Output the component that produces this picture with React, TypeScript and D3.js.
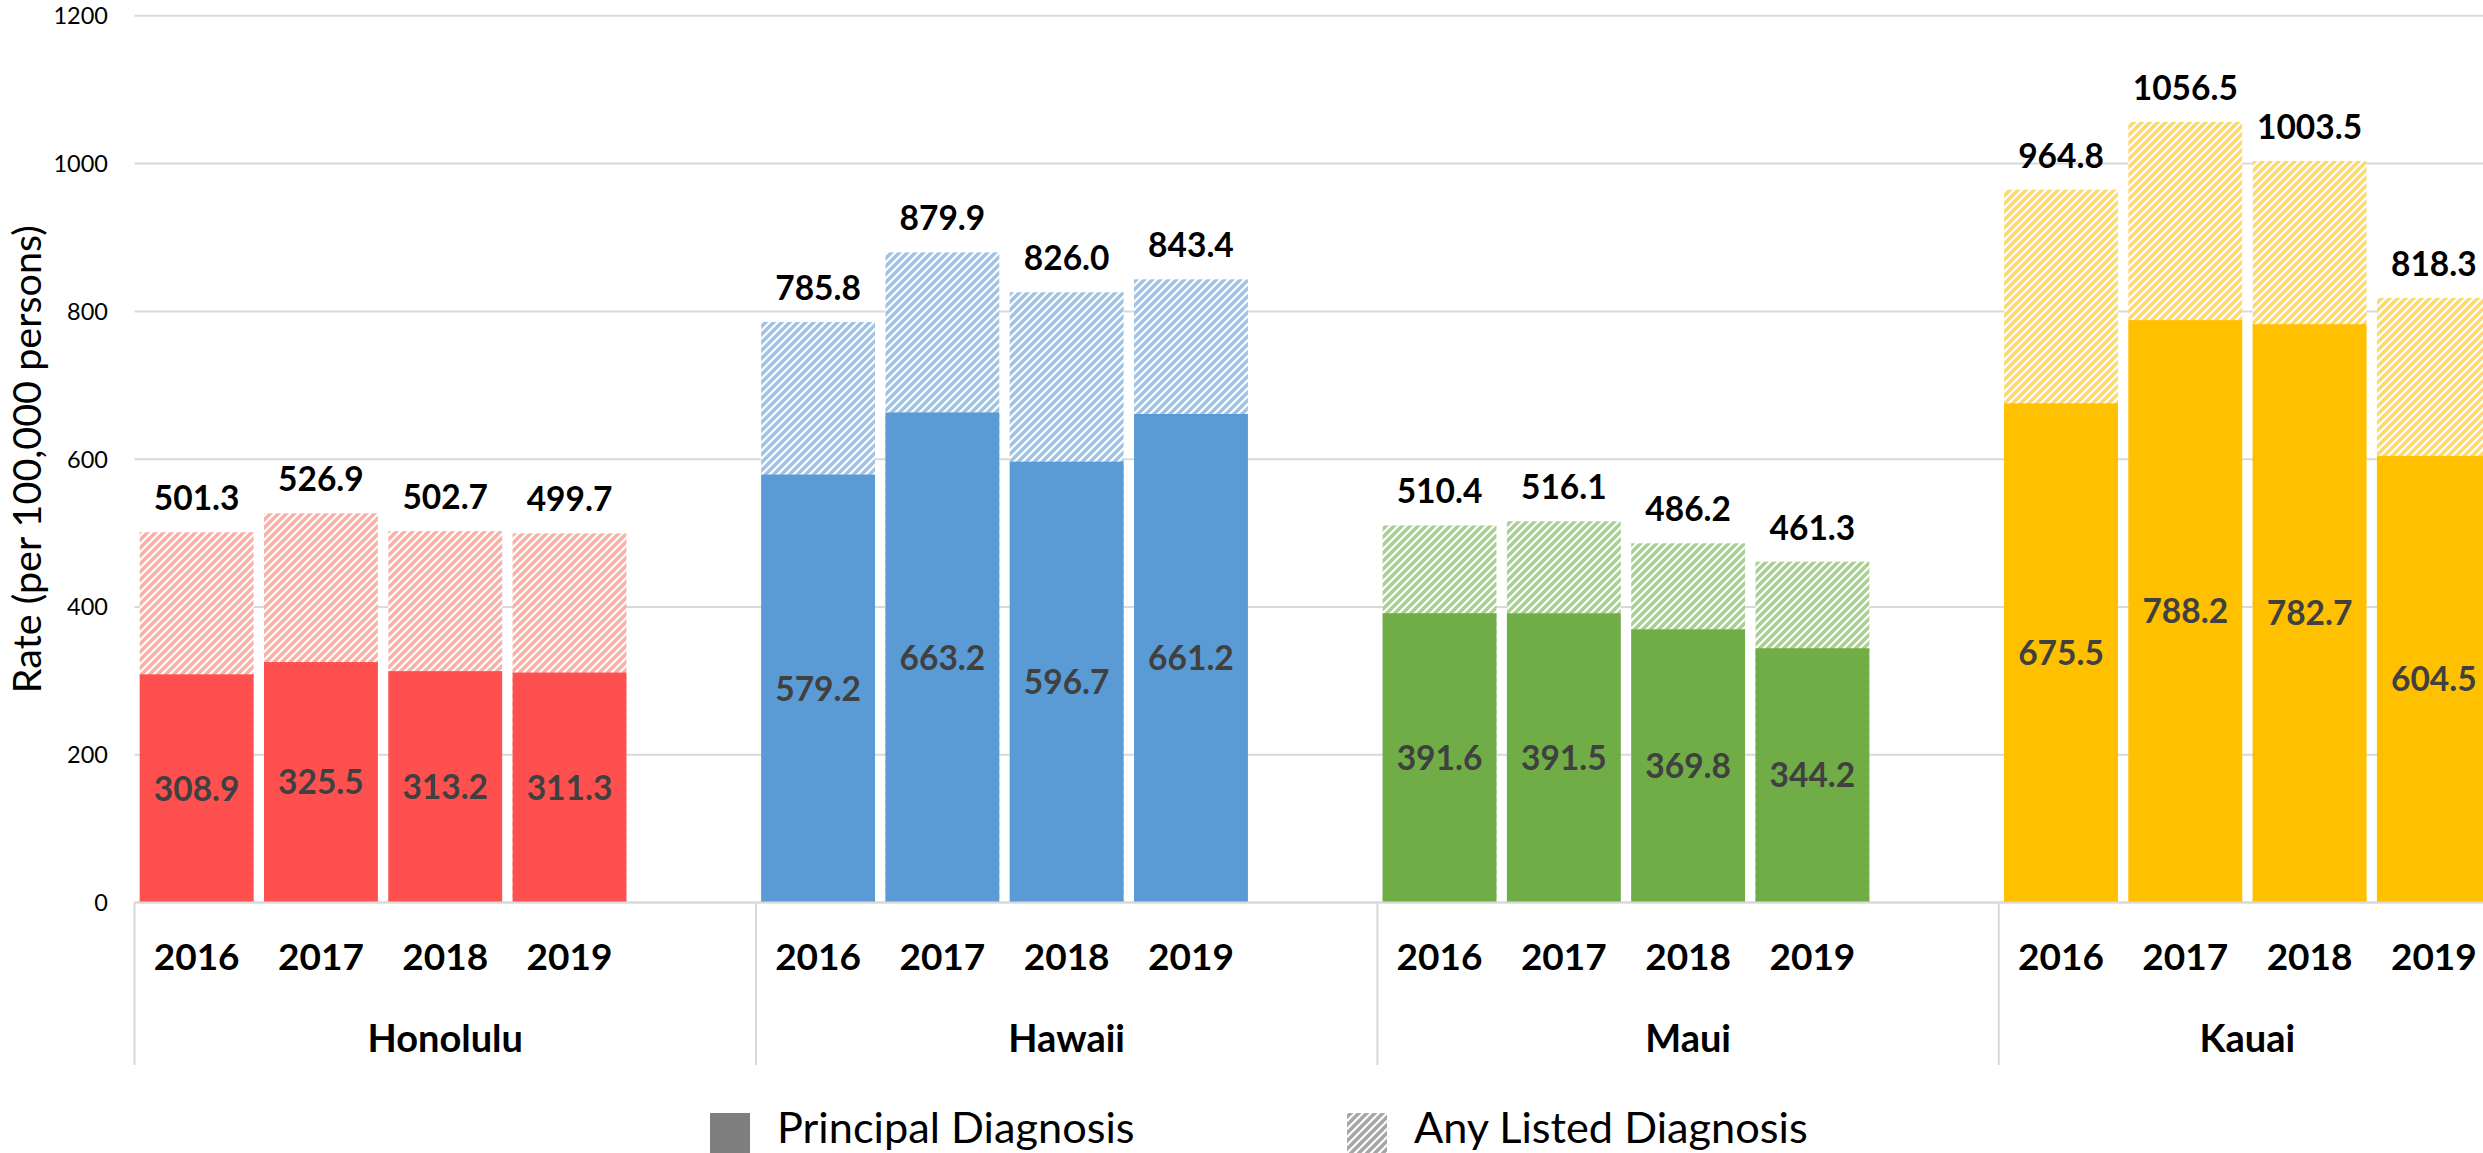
import * as d3 from "d3";
import { useEffect, useRef } from "react";

const counties = ["Honolulu", "Hawaii", "Maui", "Kauai"];
const years = ["2016", "2017", "2018", "2019"];

// rate per 100,000, one row per county, one value per year
const principalDx = [
  [308.9, 325.5, 313.2, 311.3],
  [579.2, 663.2, 596.7, 661.2],
  [391.6, 391.5, 369.8, 344.2],
  [675.5, 788.2, 782.7, 604.5],
];
const anyListedDx = [
  [501.3, 526.9, 502.7, 499.7],
  [785.8, 879.9, 826.0, 843.4],
  [510.4, 516.1, 486.2, 461.3],
  [964.8, 1056.5, 1003.5, 818.3],
];

const solidColors = ["#FF5050", "#5B9BD5", "#70AD47", "#FFC000"];
const hatchColors = ["#FFAEA3", "#9DC3E6", "#A9D18E", "#FFD966"];
const yTicks = [0, 200, 400, 600, 800, 1000, 1200];
const legendLabels = ["Principal Diagnosis", "Any Listed Diagnosis"];
const yTitle = "Rate (per 100,000 persons)";

const W = 2483;
const H = 1153;
const FONT = "Lato, 'Open Sans', sans-serif";

export default function App() {
  const ref = useRef<SVGSVGElement>(null);

  useEffect(() => {
    const svg = d3.select(ref.current);
    svg.selectAll("*").remove();

    const plotLeft = 134.5;
    const plotRight = 2496; // last group runs a bit past the picture edge
    const yBase = 902.6;
    const yTop = 15.8;

    // each county gets its years plus an empty slot, except the last one
    const slots: string[] = [];
    counties.forEach((c, i) => {
      years.forEach((yr) => slots.push(`${c}|${yr}`));
      if (i < counties.length - 1) slots.push(`${c}|gap`);
    });

    const x = d3.scaleBand()
      .domain(slots)
      .range([plotLeft, plotRight])
      .paddingInner(0.084)
      .paddingOuter(0.042);
    const step = x.step();
    const slotStart = (k: string) => x(k)! - (step * x.paddingInner()) / 2;

    const y = d3.scaleLinear().domain([0, 1200]).range([yBase, yTop]);

    // hatch patterns
    const defs = svg.append("defs");
    const addHatch = (id: string, color: string) => {
      const p = defs.append("pattern")
        .attr("id", id)
        .attr("patternUnits", "userSpaceOnUse")
        .attr("width", 8)
        .attr("height", 8);
      p.append("rect").attr("width", 8).attr("height", 8).attr("fill", "#fff");
      p.append("path")
        .attr("d", "M-2,2 L2,-2 M0,8 L8,0 M6,10 L10,6")
        .attr("stroke", color)
        .attr("stroke-width", 3.4);
    };
    hatchColors.forEach((c, i) => addHatch(`hatch-${i}`, c));
    addHatch("hatch-legend", "#A6A6A6");

    // gridlines + y ticks
    svg.append("g")
      .selectAll("line")
      .data(yTicks)
      .enter()
      .append("line")
      .attr("x1", plotLeft)
      .attr("x2", W)
      .attr("y1", (d) => y(d))
      .attr("y2", (d) => y(d))
      .attr("stroke", "#D9D9D9")
      .attr("stroke-width", 2);

    svg.append("g")
      .selectAll("text")
      .data(yTicks)
      .enter()
      .append("text")
      .attr("x", 108)
      .attr("y", (d) => y(d))
      .attr("dy", "0.36em")
      .attr("text-anchor", "end")
      .style("font-family", FONT)
      .style("font-size", "23.5px")
      .attr("fill", "#000")
      .text((d) => d);

    svg.append("text")
      .attr("transform", `translate(41,${(yBase + yTop) / 2}) rotate(-90)`)
      .attr("text-anchor", "middle")
      .style("font-family", FONT)
      .style("font-size", "39.5px")
      .attr("fill", "#000")
      .text(yTitle);

    // bars
    const bars = svg.append("g");
    counties.forEach((c, ci) => {
      years.forEach((yr, yi) => {
        const key = `${c}|${yr}`;
        const total = anyListedDx[ci][yi];
        const prin = principalDx[ci][yi];
        bars.append("rect")
          .attr("x", x(key)!)
          .attr("y", y(total))
          .attr("width", x.bandwidth())
          .attr("height", y(0) - y(total))
          .attr("fill", `url(#hatch-${ci})`);
        bars.append("rect")
          .attr("x", x(key)!)
          .attr("y", y(prin))
          .attr("width", x.bandwidth())
          .attr("height", y(0) - y(prin))
          .attr("fill", solidColors[ci]);

        const cx = x(key)! + x.bandwidth() / 2;
        bars.append("text")
          .attr("x", cx)
          .attr("y", y(total) - 22)
          .attr("text-anchor", "middle")
          .style("font-family", FONT)
          .style("font-size", "33.5px")
          .style("font-weight", "bold")
          .attr("fill", "#000")
          .text(d3.format(".1f")(total));
        bars.append("text")
          .attr("x", cx)
          .attr("y", (y(prin) + y(0)) / 2)
          .attr("dy", "0.36em")
          .attr("text-anchor", "middle")
          .style("font-family", FONT)
          .style("font-size", "33.5px")
          .style("font-weight", "bold")
          .attr("fill", "#404040")
          .text(d3.format(".1f")(prin));

        // year tick label
        svg.append("text")
          .attr("x", cx)
          .attr("y", 970)
          .attr("text-anchor", "middle")
          .style("font-family", FONT)
          .style("font-size", "37px")
          .style("font-weight", "bold")
          .attr("fill", "#000")
          .text(yr);
      });
    });

    // baseline
    svg.append("line")
      .attr("x1", plotLeft)
      .attr("x2", W)
      .attr("y1", yBase)
      .attr("y2", yBase)
      .attr("stroke", "#D9D9D9")
      .attr("stroke-width", 2);

    // group separators and county labels
    counties.forEach((c) => {
      const groupSlots = slots.filter((s) => s.startsWith(c + "|"));
      const start = slotStart(groupSlots[0]);
      const end = slotStart(groupSlots[groupSlots.length - 1]) + step;
      svg.append("line")
        .attr("x1", start)
        .attr("x2", start)
        .attr("y1", yBase)
        .attr("y2", 1065)
        .attr("stroke", "#D9D9D9")
        .attr("stroke-width", 2);
      svg.append("text")
        .attr("x", (start + end) / 2)
        .attr("y", 1052)
        .attr("text-anchor", "middle")
        .style("font-family", FONT)
        .style("font-size", "38px")
        .style("font-weight", "bold")
        .attr("fill", "#000")
        .text(c);
    });

    // legend
    const legend = svg.append("g");
    const legendX = [710, 1347];
    const legendFill = ["#7F7F7F", "url(#hatch-legend)"];
    legendLabels.forEach((lab, i) => {
      legend.append("rect")
        .attr("x", legendX[i])
        .attr("y", 1113)
        .attr("width", 40)
        .attr("height", 42)
        .attr("fill", legendFill[i]);
      legend.append("text")
        .attr("x", legendX[i] + 67)
        .attr("y", 1143)
        .style("font-family", FONT)
        .style("font-size", "43.3px")
        .attr("fill", "#000")
        .text(lab);
    });

    return () => {
      svg.selectAll("*").remove();
    };
  }, []);

  return (
    <>
      <style>{`body{margin:0;overflow:hidden}`}</style>
      <svg ref={ref} width={W} height={H} style={{ display: "block", background: "#fff" }} />
    </>
  );
}
